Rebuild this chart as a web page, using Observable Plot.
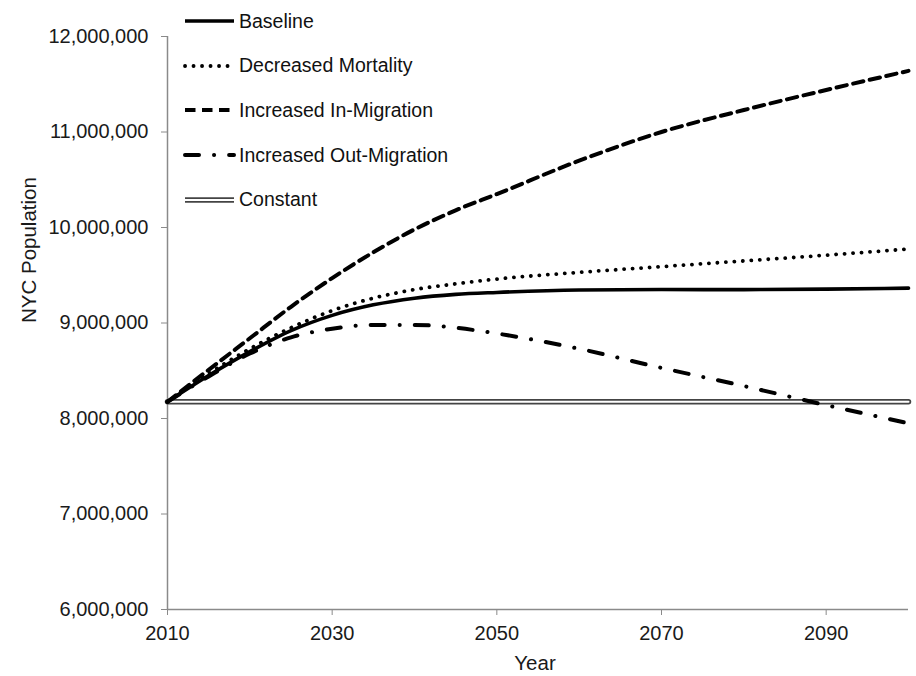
<!DOCTYPE html>
<html>
<head>
<meta charset="utf-8">
<script src="https://cdn.jsdelivr.net/npm/d3@7"></script>
<script src="https://cdn.jsdelivr.net/npm/@observablehq/plot@0.6"></script>
<style>
  html, body { margin: 0; padding: 0; background: #fff; }
  #wrap { position: relative; width: 916px; height: 676px; font-family: "Liberation Sans", Arial, sans-serif; }
  #legend { position: absolute; left: 0; top: 0; width: 0; height: 0; }
  .row { position: absolute; left: 183px; height: 24px; display: flex; align-items: center; white-space: nowrap; font-size: 19.5px; color: #111; }
  .row svg { display: block; margin-right: 3px; }
</style>
</head>
<body>
<div id="wrap"><div id="legend"></div></div>
<script>
const years = [2010, 2015, 2020, 2025, 2030, 2035, 2040, 2045, 2050, 2060, 2070, 2080, 2090, 2100];
const baseline = [8175133, 8450000, 8700000, 8920000, 9080000, 9190000, 9260000, 9300000, 9320000, 9345000, 9350000, 9350000, 9355000, 9365000];
const decreasedMortality = [8175133, 8470000, 8730000, 8950000, 9130000, 9260000, 9350000, 9410000, 9460000, 9530000, 9590000, 9650000, 9710000, 9775000];
const increasedInMigration = [8175133, 8510000, 8840000, 9170000, 9470000, 9740000, 9980000, 10180000, 10350000, 10700000, 11000000, 11230000, 11440000, 11640000];
const increasedOutMigration = [8175133, 8440000, 8680000, 8850000, 8940000, 8980000, 8980000, 8950000, 8890000, 8730000, 8530000, 8340000, 8140000, 7950000];
const constant = [8175133, 8175133, 8175133, 8175133, 8175133, 8175133, 8175133, 8175133, 8175133, 8175133, 8175133, 8175133, 8175133, 8175133];
const seriesNames = ["Baseline", "Decreased Mortality", "Increased In-Migration", "Increased Out-Migration", "Constant"];
const yTicks = [6000000, 7000000, 8000000, 9000000, 10000000, 11000000, 12000000];
const xTicks = [2010, 2030, 2050, 2070, 2090];

const toRows = (vals) => years.map((year, i) => ({year, value: vals[i]}));

const lineStyles = {
  "Baseline": {stroke: "#000", strokeWidth: 3.6},
  "Decreased Mortality": {stroke: "#000", strokeWidth: 3.8, strokeDasharray: "0.1 8.4", strokeLinecap: "round"},
  "Increased In-Migration": {stroke: "#000", strokeWidth: 4, strokeDasharray: "10.5 6.5"},
  "Increased Out-Migration": {stroke: "#000", strokeWidth: 4, strokeDasharray: "14 15 0.1 15", strokeLinecap: "round"}
};

const chart = Plot.plot({
  width: 916,
  height: 676,
  marginLeft: 167,
  marginRight: 8,
  marginTop: 36,
  marginBottom: 67,
  style: {fontFamily: "'Liberation Sans', Arial, sans-serif", fontSize: "20px", background: "transparent", overflow: "visible"},
  x: {domain: [2010, 2100]},
  y: {domain: [6000000, 12000000]},
  marks: [
    Plot.axisY({ticks: yTicks, tickFormat: d3.format(","), tickSize: 6, tickPadding: 13, stroke: "#8a8a8a", fill: "#1a1a1a", label: null}),
    Plot.axisX({ticks: xTicks, tickFormat: d3.format("d"), tickSize: 6, tickPadding: 10, stroke: "#8a8a8a", fill: "#1a1a1a", label: null}),
    Plot.ruleX([2010], {stroke: "#8a8a8a", strokeWidth: 1.5}),
    Plot.ruleY([6000000], {stroke: "#8a8a8a", strokeWidth: 1.5}),
    Plot.line(toRows(constant), {x: "year", y: "value", stroke: "#444", strokeWidth: 5.5}),
    Plot.line(toRows(constant), {x: "year", y: "value", stroke: "#fff", strokeWidth: 2}),
    Plot.line(toRows(increasedOutMigration), {x: "year", y: "value", curve: "monotone-x", ...lineStyles["Increased Out-Migration"]}),
    Plot.line(toRows(increasedInMigration), {x: "year", y: "value", curve: "monotone-x", ...lineStyles["Increased In-Migration"]}),
    Plot.line(toRows(decreasedMortality), {x: "year", y: "value", curve: "monotone-x", ...lineStyles["Decreased Mortality"]}),
    Plot.line(toRows(baseline), {x: "year", y: "value", curve: "monotone-x", ...lineStyles["Baseline"]}),
    Plot.text(["NYC Population"], {frameAnchor: "left", rotate: -90, dx: -138, fontSize: 20.5, fill: "#1a1a1a", letterSpacing: "2.4px", text: d => d}),
    Plot.text(["Year"], {frameAnchor: "bottom", dy: 60, dx: -3, fontSize: 20.5, fill: "#1a1a1a", text: d => d})
  ]
});
document.getElementById("wrap").prepend(chart);
chart.style.position = "absolute";
chart.style.left = "0";
chart.style.top = "0";

// Legend (HTML overlay)
const legendTops = [21, 65.5, 110, 155, 199.5];
const legend = document.getElementById("legend");
seriesNames.forEach((name, i) => {
  const row = document.createElement("div");
  row.className = "row";
  row.style.top = (legendTops[i] - 12) + "px";
  const ns = "http://www.w3.org/2000/svg";
  const svg = document.createElementNS(ns, "svg");
  svg.setAttribute("width", 53);
  svg.setAttribute("height", 12);
  const addLine = (attrs) => {
    const l = document.createElementNS(ns, "line");
    l.setAttribute("x1", 2); l.setAttribute("x2", 51);
    l.setAttribute("y1", 6); l.setAttribute("y2", 6);
    for (const k in attrs) l.setAttribute(k, attrs[k]);
    svg.appendChild(l);
  };
  if (name === "Constant") {
    addLine({stroke: "#444", "stroke-width": 5.5});
    addLine({stroke: "#fff", "stroke-width": 2});
  } else {
    const s = lineStyles[name];
    const a = {stroke: s.stroke, "stroke-width": s.strokeWidth};
    if (s.strokeDasharray) a["stroke-dasharray"] = s.strokeDasharray;
    if (s.strokeLinecap) a["stroke-linecap"] = s.strokeLinecap;
    addLine(a);
  }
  row.appendChild(svg);
  const span = document.createElement("span");
  span.textContent = name;
  row.appendChild(span);
  legend.appendChild(row);
});
</script>
</body>
</html>
